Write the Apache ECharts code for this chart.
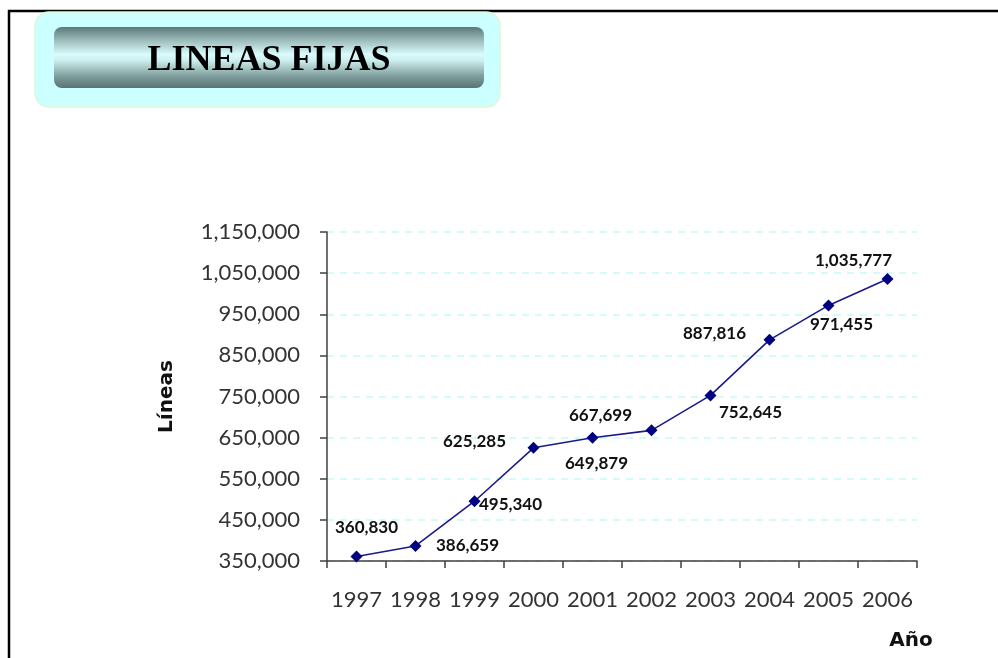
<!DOCTYPE html>
<html>
<head>
<meta charset="utf-8">
<script src="https://cdn.jsdelivr.net/npm/echarts@6/dist/echarts.min.js"></script>
<style>
html,body{margin:0;padding:0;background:#fff;}
#chart{width:998px;height:658px;}
</style>
</head>
<body>
<div id="chart"></div>
<script>
var years = ['1997','1998','1999','2000','2001','2002','2003','2004','2005','2006'];
var lineas = [360830, 386659, 495340, 625285, 649879, 667699, 752645, 887816, 971455, 1035777];
var yMin = 350000, yMax = 1150000, yStep = 100000;
var labelOffsets = [[10,-29],[52,0],[36,3],[-59,-6],[4,26],[-51,-15],[40,17],[-55,-6],[13,19],[-34,-18]];

function fmt(v){ return Number(v).toLocaleString('en-US'); }

var chart = echarts.init(document.getElementById('chart'), null, {renderer:'canvas'});
var seriesData = lineas.map(function(v,i){
  return {value:v, label:{offset:labelOffsets[i]}};
});
chart.setOption({
  backgroundColor:'#ffffff',
  animation:false,
  grid:{left:327, right:81, top:232, bottom:97, containLabel:false},
  xAxis:{
    type:'category', data:years, boundaryGap:true,
    axisLine:{lineStyle:{color:'#404040', width:1.5}},
    axisTick:{show:true, length:7, interval:0, lineStyle:{color:'#404040', width:1.5}},
    axisLabel:{color:'#333', fontFamily:'Lato', fontSize:22, margin:28, interval:0, hideOverlap:false},
    splitLine:{show:false}
  },
  yAxis:{
    type:'value', min:yMin, max:yMax, interval:yStep,
    name:'Líneas', nameLocation:'middle', nameRotate:90, nameGap:150,
    nameTextStyle:{fontFamily:'DejaVu Sans', fontWeight:'bold', fontSize:20, color:'#111'},
    axisLine:{show:true, lineStyle:{color:'#404040', width:1.5}},
    axisTick:{show:true, length:7, lineStyle:{color:'#404040', width:1.5}},
    axisLabel:{color:'#333', fontFamily:'Lato', fontSize:22, margin:27, formatter:function(v){return fmt(v);}},
    splitLine:{show:true, lineStyle:{color:'#c4fafa', type:[7,6], width:1.5}}
  },
  series:[{
    type:'line', data:seriesData,
    symbol:'diamond', symbolSize:12,
    itemStyle:{color:'#000080'},
    lineStyle:{color:'#1a1a8c', width:1.6},
    label:{show:true, position:'inside', fontFamily:'Lato', fontWeight:'bold', fontSize:17, color:'#111',
      formatter:function(p){return fmt(p.value);}}
  }],
  graphic:[
    {type:'line', shape:{x1:8, y1:11, x2:998, y2:11}, style:{stroke:'#000', lineWidth:2.5}},
    {type:'line', shape:{x1:9, y1:10, x2:9, y2:658}, style:{stroke:'#000', lineWidth:2.5}},
    {type:'rect', shape:{x:35, y:12, width:465, height:95, r:14},
      style:{fill:'#ccffff', stroke:'#ddf8d8', lineWidth:1.5}},
    {type:'rect', shape:{x:54, y:27, width:430, height:61, r:8},
      style:{fill:new echarts.graphic.LinearGradient(0,0,0,1,[
        {offset:0, color:'#5a7878'},
        {offset:0.2, color:'#98b6b6'},
        {offset:0.45, color:'#dafcfc'},
        {offset:0.55, color:'#cdeeee'},
        {offset:0.8, color:'#819f9f'},
        {offset:1, color:'#587373'}
      ])}},
    {type:'text', x:269, y:61, style:{text:'LINEAS FIJAS', font:'bold 36px "Liberation Serif", serif',
      fill:'#000', textAlign:'center', textVerticalAlign:'middle'}},
    {type:'text', x:911, y:641, style:{text:'Año', font:'bold 20px "DejaVu Sans", sans-serif',
      fill:'#111', textAlign:'center', textVerticalAlign:'middle'}}
  ]
});
</script>
</body>
</html>
